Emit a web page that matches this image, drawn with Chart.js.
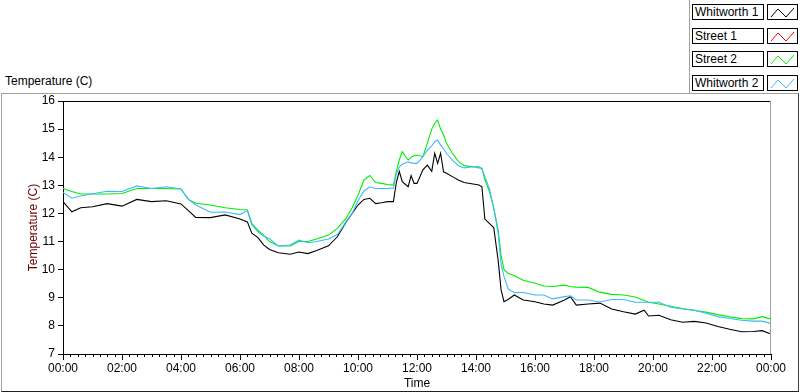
<!DOCTYPE html>
<html>
<head>
<meta charset="utf-8">
<script src="https://cdn.jsdelivr.net/npm/chart.js@4"></script>
<style>
  html, body { margin: 0; padding: 0; background: #fff; }
  body { width: 800px; height: 392px; position: relative; overflow: hidden; font-family: "Liberation Sans", Arial, sans-serif; font-size: 12px; }
  #wrap { position: absolute; left: 0; top: 0; width: 800px; height: 392px; }
  .frame { position: absolute; left: 1px; top: 93px; width: 796px; height: 297px; border-top: 1px solid #a0a0a0; border-left: 1px solid #a0a0a0; border-right: 1px solid #404040; border-bottom: 1px solid #202020; }
  .panel { position: absolute; left: 689px; top: 0; width: 110px; height: 93px; border-left: 1px solid #a0a0a0; background: #fff; }
  .plotLabel { position: absolute; left: 5px; top: 74px; color: #000; }
  .lgName { position: absolute; left: 692px; width: 68px; height: 14px; border: 1px solid #000; line-height: 14px; padding-left: 2px; box-sizing: content-box; }
  .lgSwatch { position: absolute; left: 767px; width: 29px; height: 14px; border: 1px solid #000; }
</style>
</head>
<body>
<div class="frame"></div>
<div class="panel"></div>
<div class="plotLabel">Temperature (C)</div>
<div id="legend"></div>
<div id="wrap"><canvas id="tempChart" width="800" height="392"></canvas></div>
<script>
// time of day in hours, shared by all series
const hours = [0, 0.3, 0.6, 1.0, 1.5, 2.0, 2.5, 3.0, 3.5, 4.0, 4.25, 4.5, 5.0, 5.5, 6.0, 6.25, 6.4, 6.6, 6.8, 7.0,
  7.3, 7.7, 8.0, 8.3, 8.6, 9.0, 9.3, 9.6, 9.8, 10.0, 10.2, 10.4, 10.6, 10.8, 11.0, 11.2, 11.3, 11.4, 11.5, 11.7,
  11.8, 11.9, 12.0, 12.2, 12.35, 12.5, 12.6, 12.7, 12.8, 12.9, 13.0, 13.2, 13.4, 13.6, 13.9, 14.1, 14.2, 14.3, 14.45, 14.6,
  14.75, 14.85, 14.95, 15.1, 15.3, 15.6, 16.0, 16.3, 16.6, 17.0, 17.2, 17.4, 17.8, 18.2, 18.6, 19.0, 19.4, 19.7, 19.85, 20.2,
  20.6, 21.0, 21.4, 21.8, 22.2, 22.6, 23.0, 23.4, 23.7, 24.0];

const whitworth1 = [12.42, 12.06, 12.2, 12.24, 12.35, 12.26, 12.5, 12.42, 12.45, 12.34, 12.1, 11.86, 11.85, 11.95, 11.8, 11.7, 11.3, 11.15, 10.88, 10.72,
  10.6, 10.55, 10.63, 10.57, 10.68, 10.85, 11.17, 11.7, 12.0, 12.3, 12.5, 12.54, 12.35, 12.38, 12.42, 12.42, 13.1, 13.5, 13.13, 12.95,
  13.35, 13.07, 13.07, 13.55, 13.72, 13.5, 14.14, 13.78, 14.14, 13.48, 13.43, 13.31, 13.19, 13.1, 13.05, 13.01, 12.95, 11.8, 11.65, 11.5,
  10.34, 9.28, 8.86, 8.95, 9.1, 8.92, 8.86, 8.78, 8.74, 8.92, 9.04, 8.74, 8.78, 8.81, 8.6, 8.5, 8.42, 8.56, 8.35, 8.38,
  8.22, 8.13, 8.16, 8.1, 7.98, 7.88, 7.79, 7.8, 7.83, 7.71];

const street1 = [];

const street2 = [12.89, 12.78, 12.69, 12.69, 12.69, 12.71, 12.89, 12.89, 12.89, 12.87, 12.5, 12.36, 12.3, 12.2, 12.14, 12.12, 11.65, 11.41, 11.23, 11.0,
  10.84, 10.84, 11.0, 11.0, 11.09, 11.23, 11.47, 11.83, 12.2, 12.65, 13.19, 13.35, 13.1, 13.07, 13.03, 13.01, 13.5, 13.9, 14.2, 13.9,
  14.0, 14.05, 14.08, 14.02, 14.5, 15.0, 15.2, 15.32, 15.0, 14.8, 14.5, 14.14, 13.85, 13.7, 13.66, 13.66, 13.6, 13.2, 12.8, 12.2,
  11.41, 10.5, 10.0, 9.86, 9.78, 9.62, 9.52, 9.42, 9.4, 9.45, 9.4, 9.38, 9.37, 9.2, 9.12, 9.1, 9.03, 8.9, 8.84, 8.78,
  8.7, 8.62, 8.55, 8.49, 8.4, 8.32, 8.26, 8.25, 8.33, 8.24];

const whitworth2 = [12.75, 12.54, 12.62, 12.7, 12.79, 12.78, 12.98, 12.89, 12.95, 12.87, 12.5, 12.3, 12.04, 12.05, 11.96, 12.1, 11.6, 11.35, 11.2, 11.1,
  10.84, 10.88, 11.05, 10.96, 11.0, 11.09, 11.25, 11.7, 12.0, 12.45, 12.8, 12.95, 12.89, 12.89, 12.89, 12.9, 13.4, 13.66, 13.75, 13.84,
  13.8, 13.78, 13.78, 14.02, 14.25, 14.4, 14.55, 14.61, 14.43, 14.3, 14.14, 13.9, 13.7, 13.62, 13.66, 13.62, 13.6, 13.31, 12.9, 12.2,
  11.3, 10.2, 9.75, 9.3, 9.19, 9.19, 9.1, 9.1, 8.96, 9.04, 9.07, 8.92, 8.92, 8.85, 8.94, 8.94, 8.84, 8.84, 8.84, 8.84,
  8.66, 8.6, 8.56, 8.45, 8.33, 8.26, 8.2, 8.17, 8.17, 8.09];

const seriesNames = ['Whitworth 1', 'Street 1', 'Street 2', 'Whitworth 2'];
const seriesColors = ['#000000', '#ff0000', '#00ee00', '#3fb8ff'];
const seriesValues = [whitworth1, street1, street2, whitworth2];

// LabVIEW style legend: name box + line swatch
const legend = document.getElementById('legend');
seriesNames.forEach((name, i) => {
    const top = 4 + Math.round(i * 23.7);
    legend.insertAdjacentHTML('beforeend',
        '<div class="lgName" style="top:' + top + 'px">' + name + '</div>' +
        '<div class="lgSwatch" style="top:' + top + 'px"><svg width="29" height="14">' +
        '<polyline points="3,12 10,4 18,12 26,3" fill="none" stroke="' + seriesColors[i] + '" stroke-width="1"/></svg></div>');
});

const framePlugin = {
    id: 'frame',
    afterDraw(chart) {
        const { ctx, chartArea: a, scales: { x } } = chart;
        ctx.save();
        ctx.lineWidth = 1;
        ctx.strokeStyle = '#000';
        ctx.beginPath();
        ctx.moveTo(a.left, a.top + 0.5);
        ctx.lineTo(a.right, a.top + 0.5);
        ctx.stroke();
        ctx.strokeStyle = '#a0a0a0';
        ctx.beginPath();
        ctx.moveTo(a.right - 0.5, a.top);
        ctx.lineTo(a.right - 0.5, a.bottom);
        ctx.stroke();
        // minor ticks every 15 minutes
        ctx.strokeStyle = '#000';
        ctx.beginPath();
        for (let m = 15; m < 24 * 60; m += 15) {
            if (m % 120 === 0) continue;
            const px = Math.round(x.getPixelForValue(m / 60)) + 0.5;
            ctx.moveTo(px, a.bottom);
            ctx.lineTo(px, a.bottom + 3);
        }
        ctx.stroke();
        ctx.restore();
    }
};

const ctx = document.getElementById('tempChart').getContext('2d');
new Chart(ctx, {
    type: 'line',
    data: {
        datasets: seriesNames.map((name, i) => ({
            label: name,
            data: seriesValues[i].map((v, j) => ({ x: hours[j], y: v })),
            borderColor: seriesColors[i],
            borderWidth: 1.1,
            pointRadius: 0,
            tension: 0,
            fill: false,
            order: 3 - i
        }))
    },
    options: {
        responsive: false,
        animation: false,
        layout: { padding: { left: 0, top: 101, right: 29, bottom: 0 } },
        plugins: {
            legend: { display: false },
            tooltip: { enabled: false }
        },
        scales: {
            x: {
                type: 'linear',
                min: 0,
                max: 24,
                afterFit: s => { s.height = 38; },
                ticks: {
                    stepSize: 2,
                    maxRotation: 0,
                    autoSkip: false,
                    padding: 1,
                    color: '#000',
                    font: { family: 'Liberation Sans', size: 12 },
                    callback: v => String(v % 24).padStart(2, '0') + ':00'
                },
                grid: { drawOnChartArea: false, tickLength: 6, color: '#000' },
                border: { color: '#000', width: 1 },
                title: {
                    display: true,
                    text: 'Time',
                    color: '#000',
                    font: { family: 'Liberation Sans', size: 12 },
                    padding: { top: 0, bottom: 1 }
                }
            },
            y: {
                min: 7,
                max: 16,
                afterFit: s => { s.width = 63; },
                ticks: {
                    stepSize: 1,
                    padding: 3,
                    color: '#000',
                    font: { family: 'Liberation Sans', size: 12 }
                },
                grid: { drawOnChartArea: false, tickLength: 5, color: '#000' },
                border: { color: '#000', width: 1 },
                title: {
                    display: true,
                    text: 'Temperature (C)',
                    color: '#6b0000',
                    font: { family: 'Liberation Sans', size: 12 },
                    padding: { top: 26, bottom: 0 }
                }
            }
        }
    },
    plugins: [framePlugin]
});
</script>
</body>
</html>
